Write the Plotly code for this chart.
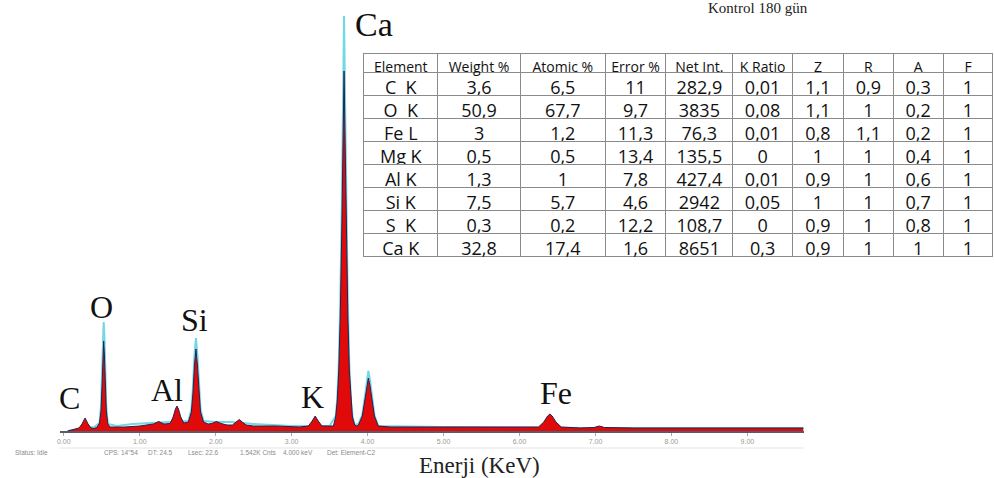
import plotly.graph_objects as go

W, H = 994, 478

# ---------------- data ----------------
# measured spectrum (red fill), energy in keV, counts (arbitrary)
spec_energy = [0.05, 0.10, 0.15, 0.20, 0.24, 0.28, 0.32, 0.36, 0.40, 0.44, 0.47, 0.49, 0.505, 0.515, 0.525,
               0.535, 0.545, 0.56, 0.58, 0.61, 0.65, 0.80, 1.00, 1.10, 1.18, 1.25, 1.32, 1.40, 1.44, 1.47,
               1.49, 1.51, 1.54, 1.58, 1.64, 1.68, 1.70, 1.72, 1.74, 1.76, 1.78, 1.80, 1.84, 1.90, 1.95,
               2.01, 2.07, 2.15, 2.22, 2.27, 2.31, 2.35, 2.40, 2.50, 2.80, 3.10, 3.22, 3.27, 3.31, 3.35,
               3.40, 3.50, 3.55, 3.58, 3.60, 3.62, 3.64, 3.66, 3.675, 3.69, 3.705, 3.72, 3.74, 3.76, 3.78,
               3.80, 3.83, 3.86, 3.88, 3.93, 3.96, 3.99, 4.01, 4.03, 4.06, 4.09, 4.14, 4.30, 5.00, 6.00,
               6.25, 6.32, 6.37, 6.40, 6.43, 6.48, 6.55, 6.80, 6.98, 7.05, 7.12, 7.50, 8.50, 9.74]
spec_counts = [0, 10, 20, 30, 70, 130, 70, 30, 25, 40, 80, 200, 480, 760, 900,
               760, 480, 200, 70, 40, 40, 40, 50, 60, 70, 95, 70, 75, 140, 220,
               250, 220, 140, 80, 90, 190, 370, 650, 820, 650, 370, 190, 90, 70, 75,
               95, 75, 60, 60, 90, 115, 90, 60, 50, 50, 40, 50, 100, 150, 100,
               50, 50, 50, 140, 300, 600, 1150, 2000, 2850, 3600, 2850, 2000, 1150, 600, 300,
               140, 60, 50, 60, 150, 290, 460, 530, 460, 290, 150, 50, 40, 40, 40,
               40, 90, 150, 170, 150, 90, 40, 30, 35, 50, 35, 30, 30, 30]

# fitted / overlay spectrum (cyan)
fit_energy = [0.05, 0.20, 0.30, 0.40, 0.47, 0.49, 0.505, 0.515, 0.525, 0.535, 0.545, 0.56, 0.58, 0.70,
              0.90, 1.10, 1.30, 1.50, 1.64, 1.68, 1.70, 1.72, 1.74, 1.76, 1.78, 1.80, 1.84, 2.00, 2.20,
              2.50, 3.00, 3.50, 3.58, 3.60, 3.62, 3.64, 3.66, 3.675, 3.69, 3.705, 3.72, 3.74, 3.76, 3.78,
              3.80, 3.83, 3.88, 3.93, 3.96, 3.99, 4.01, 4.03, 4.06, 4.09, 4.14, 5.00, 7.00, 9.74]
fit_counts = [0, 20, 30, 40, 80, 250, 620, 950, 1090, 950, 620, 250, 70, 50,
              70, 80, 90, 100, 100, 220, 430, 760, 930, 760, 430, 220, 100, 90, 90,
              70, 50, 50, 150, 320, 660, 1280, 2250, 3200, 4150, 3200, 2250, 1280, 660, 320,
              150, 60, 70, 160, 320, 520, 600, 520, 320, 160, 50, 40, 30, 30]

peak_labels = ["C", "O", "Al", "Si", "K", "Ca", "Fe"]
peak_label_energy = [0.07, 0.50, 1.36, 1.72, 3.28, 4.09, 6.48]
peak_label_counts = [330, 1240, 410, 1110, 340, 4070, 380]

x_ticks = [0, 1, 2, 3, 4, 5, 6, 7, 8, 9]

table_header = ["Element", "Weight\u00a0%", "Atomic\u00a0%", "Error\u00a0%", "Net\u00a0Int.",
                "K\u00a0Ratio", "Z", "R", "A", "F"]
elements = ["C\u00a0\u00a0K", "O\u00a0\u00a0K", "Fe\u00a0L", "Mg\u00a0K", "Al\u00a0K", "Si\u00a0K", "S\u00a0\u00a0K", "Ca\u00a0K"]
weight_pct = ["3,6", "50,9", "3", "0,5", "1,3", "7,5", "0,3", "32,8"]
atomic_pct = ["6,5", "67,7", "1,2", "0,5", "1", "5,7", "0,2", "17,4"]
error_pct = ["11", "9,7", "11,3", "13,4", "7,8", "4,6", "12,2", "1,6"]
net_int = ["282,9", "3835", "76,3", "135,5", "427,4", "2942", "108,7", "8651"]
k_ratio = ["0,01", "0,08", "0,01", "0", "0,01", "0,05", "0", "0,3"]
z_col = ["1,1", "1,1", "0,8", "1", "0,9", "1", "0,9", "0,9"]
r_col = ["0,9", "1", "1,1", "1", "1", "1", "1", "1"]
a_col = ["0,3", "0,2", "0,2", "0,4", "0,6", "0,7", "0,8", "1"]
f_col = ["1", "1", "1", "1", "1", "1", "1", "1"]

status_items = ["Status: Idle", "CPS: 14\"54", "DT: 24.5", "Lsec: 22.6", "1.542K Cnts", "4.000 keV", "Det: Element-C2"]
status_x_px = [10, 99, 143, 184, 236, 279, 323]

title_text = "Kontrol 180 gün"
x_title = "Enerji (KeV)"

# ---------------- figure ----------------
def px_x(p):
    return p / W

def px_y(p):
    return 1 - p / H

fig = go.Figure()

fig.add_trace(go.Scatter(x=fit_energy, y=fit_counts, mode="lines",
                         line=dict(color="#72d8e4", width=2), hoverinfo="skip", showlegend=False))
fig.add_trace(go.Scatter(x=spec_energy, y=spec_counts, mode="lines", fill="tozeroy",
                         fillcolor="#e00a0a", line=dict(color="#2a2050", width=1),
                         hoverinfo="skip", showlegend=False))

fig.add_trace(go.Table(
    domain=dict(x=[px_x(362), px_x(993)], y=[px_y(259), px_y(53)]),
    columnwidth=[74, 83, 85, 61, 67, 60, 51, 50, 50, 50],
    header=dict(values=table_header, height=19, align="center",
                fill_color="white", line=dict(color="#8a8a8a", width=1),
                font=dict(family="Open Sans", size=14, color="#111")),
    cells=dict(values=[elements, weight_pct, atomic_pct, error_pct, net_int, k_ratio,
                       z_col, r_col, a_col, f_col],
               height=23, align="center", fill_color="white",
               line=dict(color="#8a8a8a", width=1),
               font=dict(family="Open Sans", size=18, color="#111")),
))

annotations = []
for lab, ex, cy in zip(peak_labels, peak_label_energy, peak_label_counts):
    annotations.append(dict(x=ex, y=cy, xref="x", yref="y", text=lab, showarrow=False,
                            font=dict(family="Liberation Serif", size=32 if lab != "Ca" else 34, color="#111"),
                            xanchor="center", yanchor="middle"))
for t, xp in zip(status_items, status_x_px):
    annotations.append(dict(x=px_x(xp), y=px_y(452), xref="paper", yref="paper", text=t,
                            showarrow=False, xanchor="left", yanchor="middle",
                            font=dict(family="Liberation Sans", size=6.5, color="#8a8a8a")))
annotations.append(dict(x=px_x(478), y=px_y(465), xref="paper", yref="paper", text=x_title,
                        showarrow=False, xanchor="center", yanchor="middle",
                        font=dict(family="Liberation Serif", size=23, color="#222")))
annotations.append(dict(x=px_x(757), y=px_y(8), xref="paper", yref="paper", text=title_text,
                        showarrow=False, xanchor="center", yanchor="middle",
                        font=dict(family="Liberation Serif", size=15, color="#222")))

fig.update_layout(
    width=W, height=H, margin=dict(l=0, r=0, t=0, b=0),
    paper_bgcolor="white", plot_bgcolor="white",
    annotations=annotations,
    shapes=[dict(type="line", xref="paper", yref="paper", x0=px_x(57), x1=px_x(803),
                 y0=px_y(448), y1=px_y(448), line=dict(color="#e4e4e4", width=1))],
    xaxis=dict(domain=[px_x(57), px_x(803)], range=[-0.052, 9.74], tickvals=x_ticks,
               tickformat=".2f", showgrid=False, zeroline=False, showline=True,
               linecolor="#5a5a6a", linewidth=2, ticks="outside", ticklen=3, tickcolor="#aaa",
               tickfont=dict(family="Liberation Sans", size=7, color="#999")),
    yaxis=dict(domain=[px_y(431), px_y(10)], range=[0, 4210], visible=False, fixedrange=True),
)

fig.write_html("out.html", config={"displayModeBar": False},
               post_script="document.body.style.margin='0px';")
